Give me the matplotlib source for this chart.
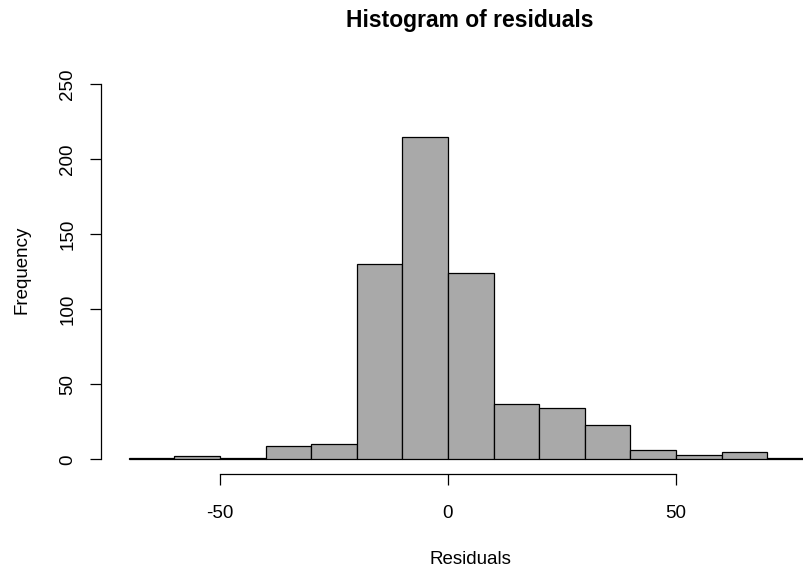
import matplotlib
matplotlib.use("Agg")
import matplotlib.pyplot as plt
import numpy as np

plt.rcParams["font.family"] = ["Liberation Sans", "DejaVu Sans"]
plt.rcParams["axes.unicode_minus"] = False

# --- Histogram data ---
bin_edges = [-70, -60, -50, -40, -30, -20, -10, 0, 10, 20, 30, 40, 50, 60, 70, 80]
counts = [1, 2, 1, 9, 10, 130, 215, 124, 37, 34, 23, 6, 3, 5, 1]
x_ticks = [-50, 0, 50]
y_ticks = [0, 50, 100, 150, 200, 250]

title = "Histogram of residuals"
x_label = "Residuals"
y_label = "Frequency"

W, H = 804, 571
fig = plt.figure(figsize=(W / 100, H / 100), dpi=100)

# plot region in pixels (R-style, image cropped on the right)
left_px, right_px = 101.4, 804
top_px, bottom_px = 69.3, 474.3
ax = fig.add_axes([left_px / W, 1 - bottom_px / H,
                   (right_px - left_px) / W, (bottom_px - top_px) / H])

edges = np.array(bin_edges, dtype=float)
ax.bar(edges[:-1], counts, width=np.diff(edges), align="edge",
       color="#a9a9a9", edgecolor="black", linewidth=0.9)

ax.set_xlim(-76, 78.07)
ax.set_ylim(-10, 260)

for side in ["top", "right"]:
    ax.spines[side].set_visible(False)
ax.spines["left"].set_bounds(y_ticks[0], y_ticks[-1])
ax.spines["bottom"].set_bounds(x_ticks[0], x_ticks[-1])
for side in ["left", "bottom"]:
    ax.spines[side].set_linewidth(0.9)

ax.set_xticks(x_ticks)
ax.set_xticklabels([str(v) for v in x_ticks])
ax.set_yticks(y_ticks)
ax.set_yticklabels([str(v) for v in y_ticks], rotation=90, va="center")
ax.tick_params(axis="both", length=8, width=0.9, labelsize=13.5, pad=14,
               colors="black")
ax.tick_params(axis="y", pad=10)

fig.text(470 / W, 1 - 20 / H, title, ha="center", va="center",
         fontsize=16.5, fontweight="bold")
fig.text(470 / W, 1 - 559 / H, x_label, ha="center", va="center", fontsize=13.5)
fig.text(22.5 / W, 1 - 270 / H, y_label, ha="center", va="center",
         rotation=90, fontsize=13.5)

fig.savefig("out.png", dpi=100)
